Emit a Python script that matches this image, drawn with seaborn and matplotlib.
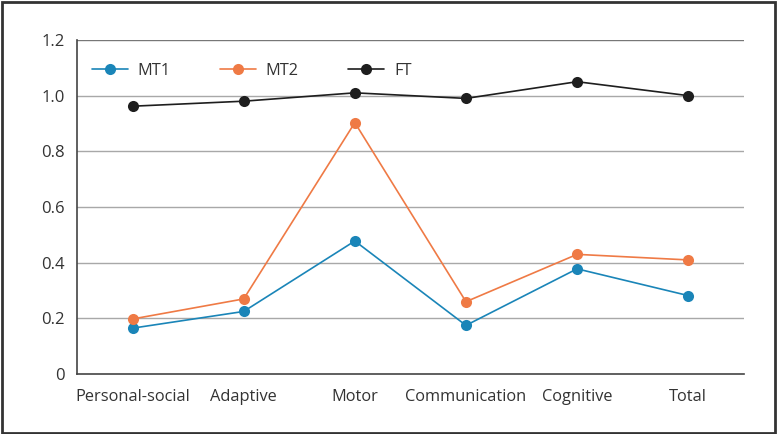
import matplotlib
matplotlib.use("Agg")
import matplotlib.pyplot as plt
import pandas as pd
import seaborn as sns
from matplotlib.patches import Rectangle
from matplotlib.ticker import FixedLocator, NullFormatter, FixedFormatter

categories = ["Personal-social", "Adaptive", "Motor", "Communication", "Cognitive", "Total"]
mt1 = [0.165, 0.225, 0.478, 0.175, 0.378, 0.282]
mt2 = [0.198, 0.270, 0.903, 0.260, 0.430, 0.410]
ft = [0.962, 0.980, 1.010, 0.990, 1.050, 1.000]
y_ticks = [0, 0.2, 0.4, 0.6, 0.8, 1.0, 1.2]
y_labels = ["0", "0.2", "0.4", "0.6", "0.8", "1.0", "1.2"]

series = {"MT1": mt1, "MT2": mt2, "FT": ft}
colors = {"MT1": "#1a85b8", "MT2": "#ef7a45", "FT": "#1e1e1e"}

rows = []
for name, vals in series.items():
    for i, v in enumerate(vals):
        rows.append({"pos": i, "value": v, "group": name})
df = pd.DataFrame(rows)

sns.set_style("white")
plt.rcParams["font.family"] = ["Open Sans", "DejaVu Sans"]

fig = plt.figure(figsize=(7.78, 4.34), dpi=100)
ax = fig.add_axes([0.099, 0.138, 0.857, 0.770])

sns.lineplot(data=df, x="pos", y="value", hue="group", palette=colors,
             marker="o", markersize=8, markeredgewidth=0, linewidth=1.2,
             ax=ax, zorder=3)

ax.set_xlim(-0.5, 5.5)
ax.set_ylim(0, 1.2)
ax.set_xlabel("")
ax.set_ylabel("")

ax.set_yticks(y_ticks)
ax.set_yticklabels(y_labels)
for y in y_ticks[1:]:
    ax.axhline(y, color="#a8a8a8" if y < 1.2 else "#777777", lw=1, zorder=1)

ax.xaxis.set_major_locator(FixedLocator([i - 0.5 for i in range(len(categories) + 1)]))
ax.xaxis.set_major_formatter(NullFormatter())
ax.xaxis.set_minor_locator(FixedLocator(list(range(len(categories)))))
ax.xaxis.set_minor_formatter(FixedFormatter(categories))
ax.tick_params(axis="x", which="major", length=7, width=1, color="#444444", direction="out")
ax.tick_params(axis="x", which="minor", length=0, pad=11, labelsize=11.8, labelcolor="#333333")
ax.tick_params(axis="y", length=5, width=1, color="#444444", direction="out",
               labelsize=12, labelcolor="#333333", pad=4)

for side in ["top", "right"]:
    ax.spines[side].set_visible(False)
for side in ["left", "bottom"]:
    ax.spines[side].set_color("#444444")
    ax.spines[side].set_linewidth(1.2)

leg = ax.legend(loc="upper left", ncol=3, frameon=False, fontsize=11.8,
                bbox_to_anchor=(0.0, 0.975), columnspacing=3.0, handlelength=2.2,
                handletextpad=0.6, labelcolor="#333333")

fig.patches.append(Rectangle((0.002, 0.003), 0.994, 0.993, transform=fig.transFigure,
                             fill=False, edgecolor="#333333", linewidth=2))

fig.savefig("out.png", dpi=100)
plt.close(fig)
